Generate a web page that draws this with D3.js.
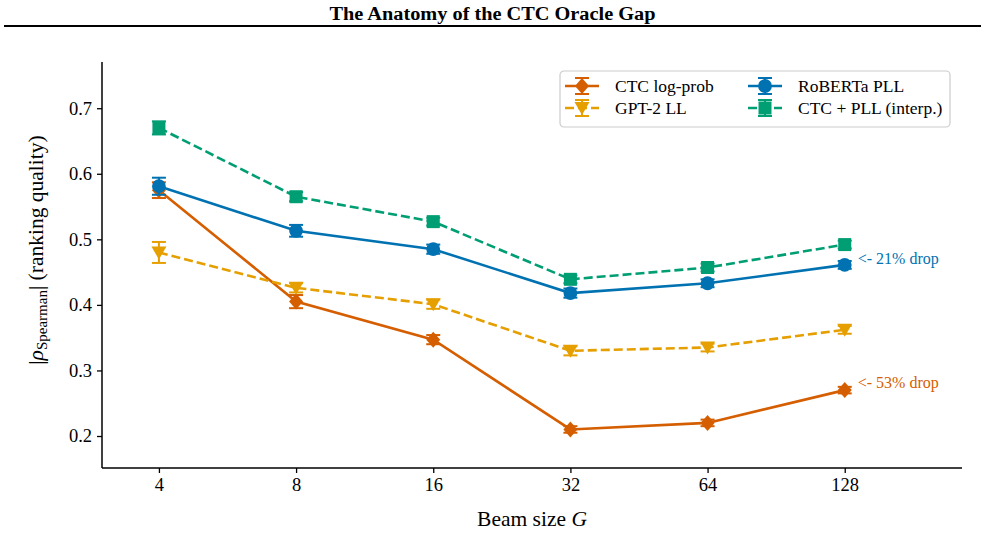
<!DOCTYPE html>
<html>
<head>
<meta charset="utf-8">
<script src="https://cdn.jsdelivr.net/npm/d3@7"></script>
<style>
  body { margin: 0; background: #fff; }
  text { font-family: "Liberation Serif", "DejaVu Serif", serif; }
</style>
</head>
<body>
<div id="chart"></div>
<script>
const w = 985;
const h = 534;

// data
const beamSizes = ["4", "8", "16", "32", "64", "128"];
const ctcValues = [0.575, 0.405, 0.347, 0.210, 0.220, 0.270];
const ctcErrors = [0.012, 0.010, 0.007, 0.005, 0.005, 0.005];
const gptValues = [0.480, 0.426, 0.401, 0.330, 0.335, 0.362];
const gptErrors = [0.016, 0.007, 0.007, 0.007, 0.006, 0.006];
const robertaValues = [0.581, 0.513, 0.485, 0.418, 0.433, 0.461];
const robertaErrors = [0.013, 0.009, 0.007, 0.007, 0.006, 0.006];
const interpValues = [0.670, 0.565, 0.527, 0.439, 0.457, 0.492];
const interpErrors = [0.010, 0.007, 0.006, 0.006, 0.006, 0.006];
const yTicks = [0.2, 0.3, 0.4, 0.5, 0.6, 0.7];

const series = [
  { name: "CTC log-prob", values: ctcValues, errors: ctcErrors, color: "#D55E00", marker: "diamond", dash: null },
  { name: "GPT-2 LL", values: gptValues, errors: gptErrors, color: "#E69F00", marker: "triangleDown", dash: "9,4" },
  { name: "RoBERTa PLL", values: robertaValues, errors: robertaErrors, color: "#0072B2", marker: "circle", dash: null },
  { name: "CTC + PLL (interp.)", values: interpValues, errors: interpErrors, color: "#009E73", marker: "square", dash: "9,4" }
];

const plotLeft = 102, plotRight = 962, plotTop = 62, plotBottom = 468;

const x = d3.scaleLinear().domain([-0.415, 5.855]).range([plotLeft, plotRight]);
const y = d3.scaleLinear().domain([0.1512, 0.7705]).range([plotBottom, plotTop]);

const svg = d3.select("#chart").append("svg")
    .attr("width", w)
    .attr("height", h);

// title + rule
svg.append("text")
    .attr("x", w / 2).attr("y", 20)
    .attr("text-anchor", "middle")
    .attr("font-size", 18)
    .attr("font-weight", "bold")
    .attr("textLength", 326)
    .attr("lengthAdjust", "spacingAndGlyphs")
    .text("The Anatomy of the CTC Oracle Gap");
svg.append("line")
    .attr("x1", 4).attr("x2", 981)
    .attr("y1", 26).attr("y2", 26)
    .attr("stroke", "#000").attr("stroke-width", 2);

// axes
const xAxis = d3.axisBottom(x)
    .tickValues(d3.range(beamSizes.length))
    .tickFormat(i => beamSizes[i])
    .tickSize(5).tickPadding(5);
const yAxis = d3.axisLeft(y)
    .tickValues(yTicks)
    .tickFormat(d3.format(".1f"))
    .tickSize(5).tickPadding(5);

const gx = svg.append("g").attr("transform", "translate(0," + plotBottom + ")").call(xAxis);
const gy = svg.append("g").attr("transform", "translate(" + plotLeft + ",0)").call(yAxis);
[gx, gy].forEach(g => {
    g.attr("font-family", null).attr("font-size", null);
    g.select(".domain").attr("stroke-width", 1.5);
    g.selectAll(".tick line").attr("stroke-width", 1.3);
    g.selectAll(".tick text")
        .style("font-size", "18.5px")
        .style("font-family", "'Liberation Serif', serif")
        .attr("fill", "#000");
});
gx.select(".domain").attr("d", "M" + plotLeft + ",0H" + plotRight);
gy.select(".domain").attr("d", "M0," + plotTop + "V" + plotBottom);

// axis labels
const xl = svg.append("text")
    .attr("x", (plotLeft + plotRight) / 2).attr("y", 526)
    .attr("text-anchor", "middle")
    .attr("font-size", 21.5);
xl.append("tspan").text("Beam size ");
xl.append("tspan").attr("font-style", "italic").text("G");

const yl = svg.append("text")
    .attr("transform", "translate(43,250) rotate(-90)")
    .attr("text-anchor", "middle")
    .attr("font-size", 21.5);
yl.append("tspan").text("|");
yl.append("tspan").attr("font-style", "italic").text("ρ");
yl.append("tspan").attr("font-size", 15).attr("dy", 4).text("Spearman");
yl.append("tspan").attr("dy", -4).text("| (ranking quality)");

function markerPath(type) {
    if (type === "diamond") return "M0,-8L7,0L0,8L-7,0Z";
    if (type === "triangleDown") return "M-7.5,-6L7.5,-6L0,7Z";
    if (type === "square") return "M-6.5,-6.5H6.5V6.5H-6.5Z";
    return d3.symbol(d3.symbolCircle, 150)();
}

const line = d3.line()
    .x((d, i) => x(i))
    .y(d => y(d));

series.forEach(s => {
    const g = svg.append("g");
    g.append("path")
        .datum(s.values)
        .attr("d", line)
        .attr("fill", "none")
        .attr("stroke", s.color)
        .attr("stroke-width", 2.6)
        .attr("stroke-dasharray", s.dash);
    const pts = g.selectAll(".pt").data(s.values).enter().append("g")
        .attr("transform", (d, i) => "translate(" + x(i) + "," + y(d) + ")");
    pts.append("path").attr("d", markerPath(s.marker)).attr("fill", s.color);
    // error bars
    const eb = g.selectAll(".eb").data(s.values).enter().append("g");
    eb.append("line")
        .attr("x1", (d, i) => x(i)).attr("x2", (d, i) => x(i))
        .attr("y1", (d, i) => y(d - s.errors[i])).attr("y2", (d, i) => y(d + s.errors[i]))
        .attr("stroke", s.color).attr("stroke-width", 2);
    [-1, 1].forEach(sign => {
        eb.append("line")
            .attr("x1", (d, i) => x(i) - 7).attr("x2", (d, i) => x(i) + 7)
            .attr("y1", (d, i) => y(d + sign * s.errors[i]))
            .attr("y2", (d, i) => y(d + sign * s.errors[i]))
            .attr("stroke", s.color).attr("stroke-width", 2);
    });
});

// annotations
const last = beamSizes.length - 1;
svg.append("text")
    .attr("x", x(last) + 13).attr("y", y(robertaValues[last]) - 1)
    .attr("font-size", 16).attr("fill", "#0072B2")
    .text("<- 21% drop");
svg.append("text")
    .attr("x", x(last) + 13).attr("y", y(ctcValues[last]) - 2)
    .attr("font-size", 16).attr("fill", "#D55E00")
    .text("<- 53% drop");

// legend
const legend = svg.append("g").attr("transform", "translate(560,71)");
legend.append("rect")
    .attr("width", 390).attr("height", 56)
    .attr("rx", 4)
    .attr("fill", "#fff").attr("fill-opacity", 0.8)
    .attr("stroke", "#ccc").attr("stroke-width", 1.2);
const legendPos = [[5, 15], [5, 37], [188, 15], [188, 37]];
series.forEach((s, k) => {
    const [lx, ly] = legendPos[k];
    const item = legend.append("g").attr("transform", "translate(" + lx + "," + ly + ")");
    item.append("line")
        .attr("x1", 0).attr("x2", 34).attr("y1", 0).attr("y2", 0)
        .attr("stroke", s.color).attr("stroke-width", 2.6)
        .attr("stroke-dasharray", s.dash ? "9,4" : null);
    item.append("line")
        .attr("x1", 17).attr("x2", 17).attr("y1", -8).attr("y2", 8)
        .attr("stroke", s.color).attr("stroke-width", 2);
    [-8, 8].forEach(dy => item.append("line")
        .attr("x1", 10).attr("x2", 24).attr("y1", dy).attr("y2", dy)
        .attr("stroke", s.color).attr("stroke-width", 2));
    item.append("path").attr("transform", "translate(17,0)")
        .attr("d", markerPath(s.marker)).attr("fill", s.color);
    item.append("text")
        .attr("x", 50).attr("y", 6)
        .attr("font-size", 17.5)
        .text(s.name);
});
</script>
</body>
</html>
